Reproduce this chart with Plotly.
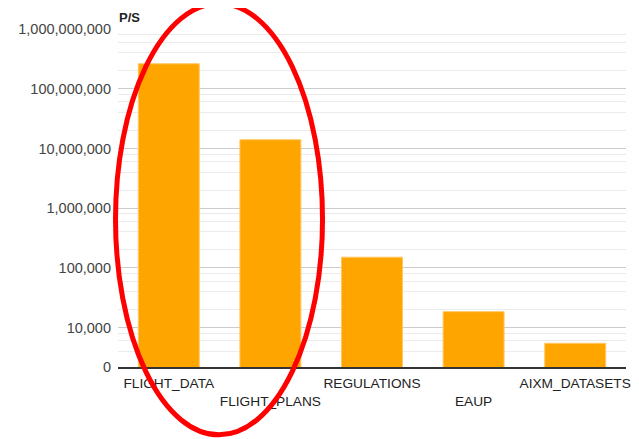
import plotly.graph_objects as go

categories = ["FLIGHT_DATA", "FLIGHT_PLANS", "REGULATIONS", "EAUP", "AIXM_DATASETS"]
values = [262000000, 14000000, 151000, 18500, 5460]
y_tick_vals = [2190, 1e4, 1e5, 1e6, 1e7, 1e8, 1e9]
y_tick_text = ["0", "10,000", "100,000", "1,000,000", "10,000,000", "100,000,000", "1,000,000,000"]
y_title = "P/S"

# staggered category labels (every second label on a second row)
x_tick_text = [c if i % 2 == 0 else "<br>" + c for i, c in enumerate(categories)]

minor_vals = [m * 10 ** e for e in range(3, 9) for m in (2, 4, 6, 8) if m * 10 ** e > 2190]

font_family = "Arial, Liberation Sans, sans-serif"

# the page body has an 8px default margin; size the figure so it fits the window
W, H, OFF = 639, 439, 8

fig = go.Figure(
    go.Bar(
        x=categories,
        y=values,
        marker=dict(color="#FFA500", line=dict(color="#FFC766", width=1)),
        hoverinfo="skip",
    )
)

fig.update_layout(
    width=W - OFF,
    height=H - OFF,
    margin=dict(l=118 - OFF, r=13, t=29 - OFF, b=72.3, autoexpand=False),
    paper_bgcolor="white",
    plot_bgcolor="white",
    bargap=0.4,
    showlegend=False,
    font=dict(family=font_family, color="#222222"),
    title=dict(
        text="<b>" + y_title + "</b>",
        x=(119 - OFF) / (W - OFF),
        xanchor="left",
        xref="container",
        y=1 - (17 - OFF) / (H - OFF),
        yanchor="middle",
        font=dict(size=13, color="#222222", family=font_family),
    ),
    xaxis=dict(
        tickmode="array",
        tickvals=categories,
        ticktext=x_tick_text,
        tickangle=0,
        automargin=False,
        tickfont=dict(size=13.7, color="#222222"),
        showline=True,
        linecolor="#333333",
        linewidth=1.5,
        showgrid=False,
        ticks="",
        ticklabelstandoff=3,
    ),
    yaxis=dict(
        type="log",
        range=[3.3404, 9],
        automargin=False,
        tickmode="array",
        tickvals=y_tick_vals,
        ticktext=y_tick_text,
        tickfont=dict(size=14.5, color="#444444"),
        showgrid=True,
        gridcolor="#cccccc",
        gridwidth=1,
        ticks="",
        ticklabelstandoff=6,
        zeroline=False,
        minor=dict(tickmode="array", tickvals=minor_vals, showgrid=True,
                   gridcolor="#ebebeb", gridwidth=1, ticks=""),
    ),
    shapes=[
        dict(
            type="circle",
            xref="paper",
            yref="paper",
            x0=-0.0049,
            x1=0.4026,
            y0=-0.2008,
            y1=1.0755,
            line=dict(color="#FF0000", width=5),
            layer="above",
        )
    ],
)

fig.write_html("out.html")
